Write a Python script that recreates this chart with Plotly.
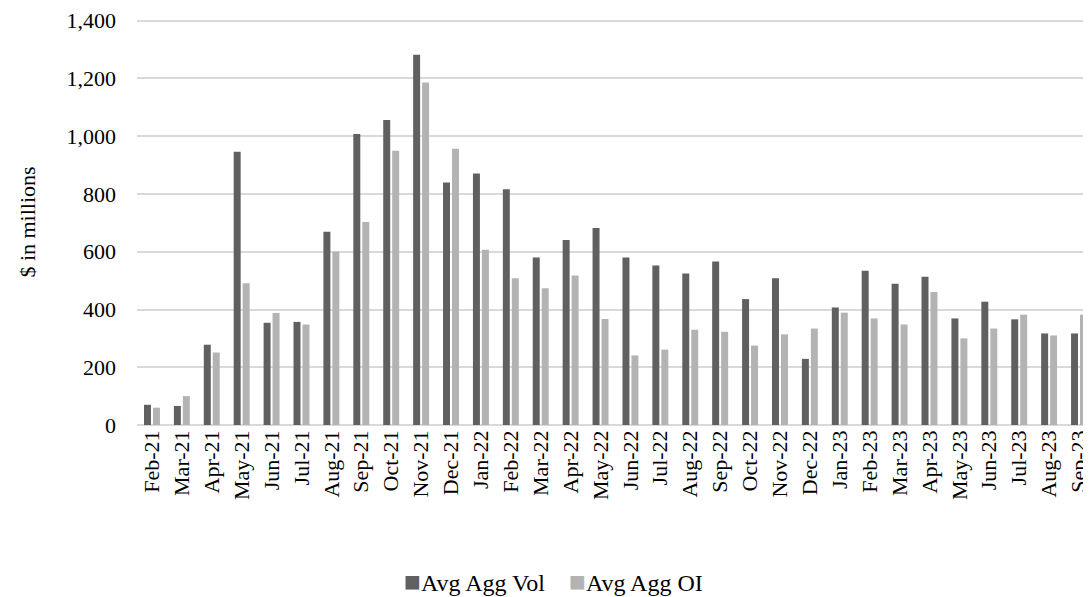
import plotly.graph_objects as go

months = ["Feb-21", "Mar-21", "Apr-21", "May-21", "Jun-21", "Jul-21", "Aug-21", "Sep-21",
          "Oct-21", "Nov-21", "Dec-21", "Jan-22", "Feb-22", "Mar-22", "Apr-22", "May-22",
          "Jun-22", "Jul-22", "Aug-22", "Sep-22", "Oct-22", "Nov-22", "Dec-22", "Jan-23",
          "Feb-23", "Mar-23", "Apr-23", "May-23", "Jun-23", "Jul-23", "Aug-23", "Sep-23"]

avg_agg_vol = [70, 66, 278, 946, 354, 357, 669, 1008, 1056, 1282, 840, 871, 816, 580, 641, 682,
               580, 552, 525, 566, 436, 508, 229, 407, 534, 489, 513, 369, 427, 366, 317, 317]

avg_agg_oi = [60, 100, 251, 491, 388, 348, 601, 703, 950, 1186, 957, 607, 508, 474, 518, 367,
              241, 261, 330, 323, 275, 314, 334, 389, 369, 348, 461, 300, 334, 382, 310, 382]

y_ticks = [0, 200, 400, 600, 800, 1000, 1200, 1400]

VOL_COLOR = "#606060"
OI_COLOR = "#b3b3b3"
FONT = "Liberation Serif, Times New Roman, serif"

fig = go.Figure()
fig.add_trace(go.Bar(x=months, y=avg_agg_vol, name="Avg Agg Vol",
                     marker=dict(color=VOL_COLOR, line=dict(width=0))))
fig.add_trace(go.Bar(x=months, y=avg_agg_oi, name="Avg Agg OI",
                     marker=dict(color=OI_COLOR, line=dict(width=0))))

fig.update_layout(
    width=1083, height=589,
    margin=dict(l=129, r=0, t=7.25, b=172),
    paper_bgcolor="white", plot_bgcolor="white",
    font=dict(family=FONT, size=22, color="#000000"),
    barmode="group", bargap=0.4, bargroupgap=0.222,
    showlegend=False,
    xaxis=dict(
        type="category", range=[-0.5, 31.3],
        tickangle=-90, showgrid=False, showline=False, ticks="",
        tickfont=dict(family=FONT, size=22),
    ),
    yaxis=dict(
        range=[0, 1406], tickvals=y_ticks, tickformat=",",
        showgrid=True, gridcolor="#d9d9d9", gridwidth=1.5,
        zeroline=True, zerolinecolor="#d9d9d9", zerolinewidth=1.5,
        showline=False, ticks="", ticklabelstandoff=20,
        ticklabeloverflow="allow",
        tickfont=dict(family=FONT, size=22),
        title=dict(text="$ in millions", font=dict(family=FONT, size=22), standoff=24),
    ),
    annotations=[dict(
        x=0.438, y=-0.385, xref="paper", yref="paper",
        xanchor="center", yanchor="middle", showarrow=False,
        text=(f"<span style='color:{VOL_COLOR};font-size:28px'>■</span>Avg Agg Vol"
              f"    <span style='color:{OI_COLOR};font-size:28px'>■</span>Avg Agg OI"),
        font=dict(family=FONT, size=24, color="#000000"),
    )],
)

fig.write_html("out.html")
